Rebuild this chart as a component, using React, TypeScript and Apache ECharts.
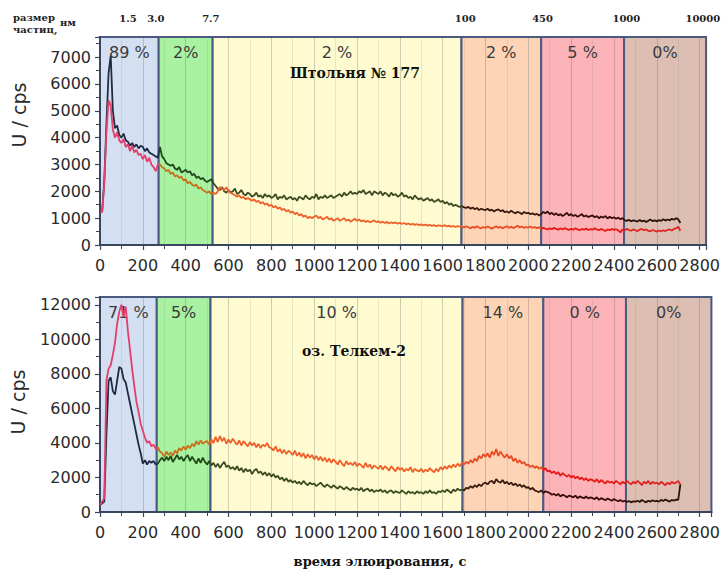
import React, { useEffect, useRef } from "react";
import * as echarts from "echarts";

const TIME_STEP = 10; // s between samples, first sample at t = 0

// Top panel (Штольня № 177), U counts
const TOP_DARK = [
  1250, 1230, 2400, 4500, 6400, 7050, 5000, 4350, 4450, 4100,
  4000, 4150, 3900, 3850, 3700, 3800, 3650, 3750, 3600, 3700,
  3650, 3500, 3600, 3450, 3400, 3350, 3300, 3250, 3650, 3300,
  3200, 3050, 3000, 2950, 3000, 2850, 2800, 2900, 2700, 2750,
  2800, 2700, 2750, 2600, 2650, 2500, 2550, 2450, 2500, 2400,
  2350, 2400, 2450, 2300, 2200, 2100, 2050, 2150, 2000, 1950,
  2050, 1950, 2000, 2100, 1900, 1950, 2050, 1900, 1850, 1950,
  1900, 1800, 1850, 1950, 1800, 1850, 1750, 1900, 1800, 1850,
  1750, 1800, 1900, 1700, 1800, 1750, 1850, 1700, 1750, 1800,
  1700, 1750, 1650, 1800, 1750, 1700, 1850, 1750, 1700, 1800,
  1750, 1900, 1700, 1800, 1750, 1850, 1750, 1800, 1850, 1750,
  1800, 1850, 1900, 1800, 1950, 1850, 1900, 2000, 1900, 1950,
  1900, 2000, 1950, 2050, 1900, 1950, 2000, 1850, 2000, 1950,
  1900, 2000, 1850, 1950, 1900, 1800, 1950, 1850, 1900, 1800,
  1850, 1950, 1800, 1850, 1750, 1800, 1700, 1850, 1750, 1700,
  1750, 1650, 1700, 1750, 1650, 1700, 1600, 1650, 1700, 1600,
  1650, 1550, 1600, 1500, 1550, 1450, 1500, 1450, 1420, 1450,
  1400, 1380, 1420, 1350, 1400, 1330, 1380, 1300, 1350, 1320,
  1300, 1350, 1280, 1320, 1250, 1300, 1330, 1260, 1300, 1220,
  1250, 1200, 1280, 1220, 1180, 1240, 1200, 1150, 1230, 1180,
  1200, 1150, 1180, 1130, 1160, 1100, 1150, 1230, 1180, 1250,
  1150, 1200, 1120, 1180, 1100, 1150, 1080, 1130, 1200, 1100,
  1150, 1080, 1120, 1050, 1100, 1150, 1060, 1100, 1040, 1080,
  1100, 1030, 1080, 1000, 1060, 1020, 1080, 990, 1050, 1000,
  1030, 980, 1020, 960, 1000, 920, 900, 940, 880, 920,
  900, 870, 930, 880, 910, 860, 900, 950, 890, 920,
  880, 930, 900, 960, 910, 950, 920, 980, 940, 1000,
  960, 820,
];

const TOP_RED = [
  1250, 1230, 2300, 4200, 5400, 5200, 4300, 4000, 4200, 3900,
  3800, 3950, 3650, 3750, 3500, 3700, 3450, 3550, 3350, 3400,
  3200, 3350, 3100, 3250, 3000, 2900, 2750, 3000, 3000, 2900,
  2850, 2750, 2800, 2650, 2700, 2550, 2600, 2500, 2550, 2400,
  2450, 2300, 2350, 2250, 2200, 2250, 2100, 2150, 2050, 2000,
  1950, 2000, 1900, 1950, 1900, 2000, 2150, 2100, 2050, 2150,
  2000, 1950, 1900, 1850, 1800, 1850, 1750, 1800, 1700, 1750,
  1700, 1650, 1700, 1600, 1650, 1550, 1600, 1500, 1550, 1450,
  1500, 1400, 1450, 1350, 1400, 1300, 1350, 1250, 1300, 1200,
  1250, 1150, 1200, 1100, 1150, 1050, 1100, 1000, 1050, 1000,
  1050, 1100, 1000, 1050, 950, 1000, 1050, 950, 1000, 900,
  950, 1000, 900, 950, 1000, 900, 950, 870, 920, 980,
  900, 950, 880, 920, 860, 900, 850, 880, 920, 850,
  880, 830, 870, 820, 860, 800, 850, 810, 840, 790,
  830, 780, 820, 770, 800, 760, 790, 750, 780, 740,
  770, 730, 760, 720, 750, 710, 740, 700, 730, 720,
  700, 740, 690, 720, 680, 710, 670, 700, 680, 690,
  650, 700, 660, 620, 680, 640, 700, 650, 620, 670,
  640, 690, 650, 610, 660, 700, 640, 680, 620, 660,
  700, 640, 680, 630, 670, 720, 650, 690, 640, 670,
  650, 690, 640, 670, 630, 660, 600, 640, 610, 580,
  620, 590, 640, 600, 570, 620, 580, 630, 590, 560,
  600, 570, 620, 580, 550, 600, 570, 610, 560, 590,
  570, 620, 580, 550, 600, 560, 520, 580, 550, 600,
  560, 590, 540, 470, 580, 550, 600, 560, 530, 580,
  550, 520, 570, 600, 550, 580, 530, 510, 560, 530,
  500, 540, 510, 550, 520, 560, 580, 540, 600, 620,
  680, 530,
];

// Bottom panel (оз. Телкем-2), U counts
const BOTTOM_DARK = [
  400, 500, 600, 4500, 7600, 7800, 7000, 6800, 7600, 8400,
  8300, 7700, 7500, 6900, 6300, 5700, 5100, 4500, 3900, 3400,
  2800, 3000, 2750, 2950, 2850, 2950, 2750, 2800, 3000, 3150,
  2950, 3200, 3000, 3250, 2900, 3100, 3300, 3050, 3200, 2950,
  3150, 3300, 2950, 3200, 3000, 2800, 3100, 2850, 3150, 2900,
  2750, 2950, 2700, 2850, 2600, 2800, 2550, 2750, 2900, 2600,
  2700, 2500, 2600, 2450, 2650, 2400, 2550, 2300, 2500, 2350,
  2450, 2200, 2400, 2500, 2250, 2350, 2150, 2300, 2100, 2250,
  2050, 2200, 2000, 2100, 1900, 2000, 1800, 1950, 1750, 1850,
  1700, 1800, 1650, 1750, 1600, 1800, 1650, 1550, 1700, 1600,
  1650, 1500, 1600, 1700, 1550, 1450, 1600, 1500, 1400, 1550,
  1450, 1350, 1500, 1400, 1300, 1450, 1350, 1250, 1400, 1300,
  1350, 1250, 1400, 1200, 1300, 1350, 1200, 1300, 1150, 1250,
  1200, 1300, 1150, 1250, 1100, 1200, 1250, 1100, 1200, 1150,
  1100, 1250, 1150, 1050, 1200, 1100, 1150, 1050, 1200, 1100,
  1150, 1050, 1200, 1100, 1250, 1100, 1150, 1050, 1200, 1150,
  1250, 1150, 1300, 1200, 1100, 1300, 1200, 1350, 1250, 1300,
  1250, 1400, 1350, 1500, 1400, 1550, 1450, 1600, 1500, 1650,
  1700, 1600, 1750, 1800, 1650, 1900, 1750, 1700, 1850, 1650,
  1750, 1600, 1700, 1550, 1650, 1500, 1600, 1450, 1550, 1400,
  1450, 1300, 1400, 1250, 1200, 1150, 1250, 1100, 1200, 1150,
  1100, 1000, 1050, 950, 1050, 900, 1000, 950, 850, 950,
  900, 850, 950, 800, 900, 850, 800, 900, 780, 850,
  800, 750, 850, 700, 800, 750, 680, 780, 720, 650,
  750, 680, 620, 700, 600, 650, 580, 640, 560, 620,
  600, 650, 580, 700, 620, 560, 650, 600, 680, 620,
  650, 600, 700, 640, 720, 660, 600, 700, 650, 720,
  700, 1600,
];

const BOTTOM_RED = [
  400, 600, 800, 7600, 8300, 8500, 9100, 9800, 10900, 11600,
  12000, 11300, 11900, 10500, 9400, 8300, 7300, 6400, 5800, 5100,
  4700, 4300, 4000, 4100, 3800, 3900, 3650, 3750, 3500, 3400,
  3200, 3500, 3300, 3450, 3250, 3550, 3400, 3700, 3550, 3800,
  3600, 3850, 3700, 3950, 3800, 4100, 3900, 4150, 3950, 4050,
  4100, 3900, 4200, 4000, 4350, 4050, 4400, 4100, 4300, 3950,
  4200, 4000, 4250, 4050, 3900, 4150, 3850, 4100, 3950, 3800,
  4050, 3850, 4000, 3750, 3950, 3700, 3900, 3800, 4000, 3750,
  3700, 3550, 3800, 3500, 3650, 3400, 3600, 3350, 3550, 3450,
  3300, 3550, 3250, 3450, 3200, 3400, 3100, 3350, 3150, 3300,
  3050, 3250, 3000, 3200, 2950, 3150, 2900, 3100, 2850, 3050,
  2900, 2750, 3000, 2800, 2650, 2950, 2750, 2850, 2700, 2900,
  2650, 2800, 2700, 2550, 2850, 2600, 2750, 2500, 2700, 2600,
  2500, 2700, 2450, 2650, 2550, 2400, 2650, 2500, 2350, 2600,
  2450, 2550, 2350, 2500, 2400, 2600, 2300, 2500, 2400, 2350,
  2500, 2300, 2450, 2350, 2550, 2400, 2300, 2500, 2350, 2600,
  2450, 2650, 2500, 2700, 2550, 2750, 2600, 2800, 2650, 2850,
  2750, 2900, 2800, 3000, 2850, 3100, 2950, 3250, 3100, 3350,
  3200, 3400, 3150, 3500, 3300, 3650, 3250, 3500, 3300, 3150,
  3350, 3100, 3250, 2950, 3100, 2850, 3000, 2800, 2900, 2700,
  2750, 2600, 2700, 2550, 2650, 2500, 2600, 2400, 2550, 2350,
  2400, 2250, 2350, 2200, 2300, 2100, 2250, 2150, 2050, 2150,
  2000, 2100, 1950, 2050, 1900, 2000, 1850, 1950, 1800, 1900,
  1850, 1750, 1900, 1700, 1850, 1750, 1650, 1800, 1700, 1750,
  1650, 1800, 1700, 1600, 1750, 1650, 1800, 1700, 1600, 1750,
  1650, 1800, 1700, 1550, 1750, 1650, 1800, 1600, 1750, 1650,
  1700, 1600, 1750, 1650, 1550, 1700, 1600, 1750, 1650, 1700,
  1800, 1600,
];

// Particle-size fractions (region boundaries in s) and their shares
const TOP_BOUNDS = [0, 274, 526, 1688, 2060, 2447, 2830];
const BOTTOM_BOUNDS = [0, 265, 516, 1693, 2070, 2456, 2855];
const TOP_PCT = ["89 %", "2%", "2 %", "2 %", "5 %", "0%"];
const BOTTOM_PCT = ["71 %", "5%", "10 %", "14 %", "0 %", "0%"];
const SIZE_LABELS = ["1.5", "3.0", "7.7", "100", "450", "1000", "10000"];
const SIZE_TIMES = [130, 260, 516, 1700, 2060, 2450, 2806];

const REGION_COLORS = ["#d4e0f1", "#a9f2a2", "#fdfbcf", "#fdd4b6", "#fcb3b7", "#dcbfb2"];
const DARK_COLORS = ["#1f2a44", "#1f4a1a", "#3d4a22", "#3a1a0c", "#3a0c0c", "#2e1208"];
const RED_COLORS = ["#e0406a", "#c8701a", "#f0602a", "#ec4a22", "#e81818", "#e02222"];

const AXIS_COLOR = "#3a4660";
const BORDER_COLOR = "#4a5a80";
const SANS = "DejaVu Sans";
const SERIF = "DejaVu Serif";

const TOP_GRID = { left: 100, top: 37, width: 608, height: 208 };
const BOTTOM_GRID = { left: 100, top: 297, width: 613, height: 215 };

function toPairs(vals: number[]) {
  return vals.map((v, i) => [i * TIME_STEP, v]);
}

function regions(bounds: number[], pct: string[]) {
  return pct.map((p, i) => [
    { name: p, xAxis: bounds[i], itemStyle: { color: REGION_COLORS[i] } },
    { xAxis: bounds[i + 1] },
  ]);
}

function pieces(bounds: number[], colors: string[]) {
  return colors.map((c, i) => ({ gte: bounds[i], lt: bounds[i + 1], color: c }));
}

function xAxisCfg(grid: number, max: number) {
  return {
    type: "value",
    gridIndex: grid,
    min: 0,
    max,
    interval: 200,
    z: 3,
    axisLine: { show: true, onZero: false, lineStyle: { color: AXIS_COLOR, width: 2 } },
    axisTick: { show: true, length: 5, lineStyle: { color: AXIS_COLOR, width: 1.2 } },
    minorTick: { show: true, splitNumber: 2, length: 4, lineStyle: { color: AXIS_COLOR, width: 1 } },
    splitLine: { show: true, lineStyle: { color: "rgba(90,90,90,0.28)", width: 1 } },
    minorSplitLine: { show: true, lineStyle: { color: "rgba(140,140,120,0.18)", width: 1 } },
    axisLabel: {
      margin: 12,
      fontFamily: SANS,
      fontSize: 16,
      color: "#2a2a2a",
      formatter: (v: number) => (v % 200 === 0 ? String(v) : ""),
    },
  };
}

function yAxisCfg(grid: number, max: number, interval: number) {
  return {
    type: "value",
    gridIndex: grid,
    min: 0,
    max,
    interval,
    z: 3,
    axisLine: { show: true, lineStyle: { color: AXIS_COLOR, width: 2 } },
    axisTick: { show: true, length: 5, lineStyle: { color: AXIS_COLOR, width: 1.2 } },
    minorTick: { show: true, splitNumber: 2, length: 4, lineStyle: { color: AXIS_COLOR, width: 1 } },
    splitLine: { show: false },
    axisLabel: {
      margin: 9,
      fontFamily: SANS,
      fontSize: 16,
      color: "#2a2a2a",
      formatter: (v: number) => (v % interval === 0 ? String(v) : ""),
    },
  };
}

function areaSeries(idx: number, bounds: number[], pct: string[]) {
  return {
    type: "line",
    xAxisIndex: idx,
    yAxisIndex: idx,
    data: [],
    z: 1,
    silent: true,
    markArea: {
      silent: true,
      itemStyle: { borderColor: BORDER_COLOR, borderWidth: 2, opacity: 1 },
      label: {
        show: true,
        position: "insideTop",
        distance: 8,
        fontFamily: SANS,
        fontSize: 16,
        color: "#3a3a3a",
      },
      data: regions(bounds, pct),
    },
  };
}

function lineSeries(idx: number, vals: number[]) {
  return {
    type: "line",
    xAxisIndex: idx,
    yAxisIndex: idx,
    data: toPairs(vals),
    showSymbol: false,
    symbol: "none",
    z: 5,
    lineStyle: { width: 1.8 },
  };
}

export default function App() {
  const ref = useRef<HTMLDivElement>(null);

  useEffect(() => {
    if (!ref.current) return;
    const chart = echarts.init(ref.current, undefined, { renderer: "svg" });

    const sizeTexts = SIZE_LABELS.map((s, i) => ({
      type: "text",
      x: TOP_GRID.left + (SIZE_TIMES[i] / TOP_BOUNDS[TOP_BOUNDS.length - 1]) * TOP_GRID.width,
      y: 18,
      style: {
        text: s,
        font: `bold 10px "${SERIF}"`,
        fill: "#222",
        align: "center",
        verticalAlign: "middle",
      },
    }));

    chart.setOption({
      animation: false,
      backgroundColor: "#ffffff",
      grid: [
        { ...TOP_GRID, containLabel: false },
        { ...BOTTOM_GRID, containLabel: false },
      ],
      xAxis: [xAxisCfg(0, TOP_BOUNDS[TOP_BOUNDS.length - 1]), xAxisCfg(1, BOTTOM_BOUNDS[BOTTOM_BOUNDS.length - 1])],
      yAxis: [yAxisCfg(0, 7750, 1000), yAxisCfg(1, 12450, 2000)],
      visualMap: [
        { type: "piecewise", show: false, dimension: 0, seriesIndex: 1, pieces: pieces(TOP_BOUNDS, DARK_COLORS) },
        { type: "piecewise", show: false, dimension: 0, seriesIndex: 2, pieces: pieces(TOP_BOUNDS, RED_COLORS) },
        { type: "piecewise", show: false, dimension: 0, seriesIndex: 4, pieces: pieces(BOTTOM_BOUNDS, DARK_COLORS) },
        { type: "piecewise", show: false, dimension: 0, seriesIndex: 5, pieces: pieces(BOTTOM_BOUNDS, RED_COLORS) },
      ],
      series: [
        areaSeries(0, TOP_BOUNDS, TOP_PCT),
        lineSeries(0, TOP_DARK),
        lineSeries(0, TOP_RED),
        areaSeries(1, BOTTOM_BOUNDS, BOTTOM_PCT),
        lineSeries(1, BOTTOM_DARK),
        lineSeries(1, BOTTOM_RED),
      ],
      graphic: [
        {
          type: "text",
          x: 13,
          y: 17,
          style: { text: "размер", font: `bold 10px "${SERIF}"`, fill: "#222", verticalAlign: "middle" },
        },
        {
          type: "text",
          x: 13,
          y: 29,
          style: { text: "частиц,", font: `bold 10px "${SERIF}"`, fill: "#222", verticalAlign: "middle" },
        },
        {
          type: "text",
          x: 60,
          y: 22,
          style: { text: "нм", font: `bold 10px "${SERIF}"`, fill: "#222", verticalAlign: "middle" },
        },
        ...sizeTexts,
        {
          type: "text",
          x: 355,
          y: 73,
          z: 10,
          style: { text: "Штольня № 177", font: `bold 14px "${SERIF}"`, fill: "#111", align: "center", verticalAlign: "middle" },
        },
        {
          type: "text",
          x: 354,
          y: 351,
          z: 10,
          style: { text: "оз. Телкем-2", font: `bold 14px "${SERIF}"`, fill: "#111", align: "center", verticalAlign: "middle" },
        },
        {
          type: "text",
          x: 19,
          y: 115,
          rotation: Math.PI / 2,
          style: { text: "U / cps", font: `19px "${SANS}"`, fill: "#2a2a2a", align: "center", verticalAlign: "middle" },
        },
        {
          type: "text",
          x: 18,
          y: 402,
          rotation: Math.PI / 2,
          style: { text: "U / cps", font: `19px "${SANS}"`, fill: "#2a2a2a", align: "center", verticalAlign: "middle" },
        },
        {
          type: "text",
          x: 380,
          y: 561,
          style: { text: "время элюирования, с", font: `bold 13px "${SERIF}"`, fill: "#111", align: "center", verticalAlign: "middle" },
        },
      ],
    });

    return () => chart.dispose();
  }, []);

  return (
    <div
      ref={ref}
      style={{ position: "fixed", left: 0, top: 0, width: 723, height: 571, background: "#fff" }}
    />
  );
}
